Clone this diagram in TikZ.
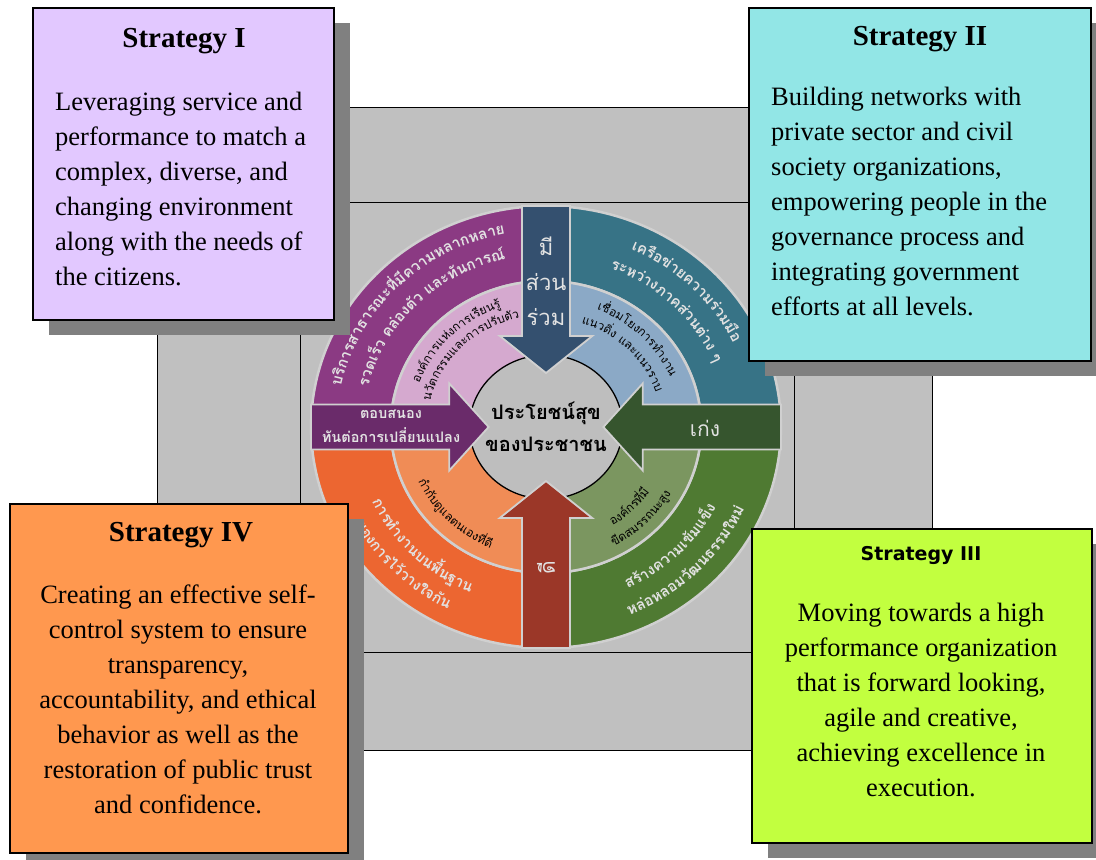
\documentclass[tikz,border=0pt]{standalone}
\usepackage{fontspec}
\setmainfont{Liberation Serif}
\newfontfamily\thaifont[Script=Thai]{Loma}
\newfontfamily\headsans{DejaVu Sans}
\usetikzlibrary{decorations.text,shadows}

% panel and frame colours
\definecolor{bggray}{HTML}{C0C0C0}
\definecolor{shadowgray}{HTML}{808080}
\definecolor{sOne}{HTML}{E2C8FF}
\definecolor{sTwo}{HTML}{92E6E6}
\definecolor{sThree}{HTML}{C2FF3F}
\definecolor{sFour}{HTML}{FF984F}
% wheel colours
\definecolor{purpleOut}{HTML}{8B3A83}
\definecolor{pinkIn}{HTML}{D5A9CF}
\definecolor{tealOut}{HTML}{377386}
\definecolor{blueIn}{HTML}{8BA9C6}
\definecolor{greenOut}{HTML}{4F7A32}
\definecolor{oliveIn}{HTML}{7B9660}
\definecolor{orangeOut}{HTML}{EC6631}
\definecolor{orangeIn}{HTML}{F08C56}
\definecolor{arrowTop}{HTML}{34506F}
\definecolor{arrowLeft}{HTML}{6A2B6A}
\definecolor{arrowRight}{HTML}{36552E}
\definecolor{arrowBottom}{HTML}{9B3728}
\definecolor{sepgray}{HTML}{D0D0D0}
\definecolor{hubgray}{HTML}{BEBEBE}
\definecolor{lighttext}{HTML}{E2E2E2}

% text set along an arc of the wheel: radius, start angle, end angle, format, text
\newcommand\ringlabel[5]{%
  \path[decorate, decoration={text along path, text align=center, text={|#4|#5}}]
    (#2:#1) arc[start angle=#2, end angle=#3, radius=#1];%
}
\newcommand\outerfmt{\thaifont\bfseries\fontsize{15}{15}\selectfont\color{lighttext}}
\newcommand\innerfmt{\thaifont\fontsize{12}{12}\selectfont\color{black}}

\begin{document}
\begin{tikzpicture}[x=1pt, y=1pt,
  cell/.style={fill=bggray, draw=black, line width=0.9pt},
  stratbox/.style={draw=black, line width=1.1pt, inner sep=0pt,
    general shadow={fill=shadowgray, shadow xshift=16pt, shadow yshift=-15pt}},
  titletext/.style={font=\fontsize{29}{35}\selectfont\bfseries, inner sep=0pt},
  bodytext/.style={font=\fontsize{26.5}{35}\selectfont, inner sep=0pt},
  sector/.style={draw=sepgray, line width=2.5pt, line join=round},
  wheelarrow/.style={draw=sepgray, line width=1.8pt, line join=miter},
  arrowlabel/.style={text=lighttext, inner sep=0pt, align=center},
]
\useasboundingbox (0,0) rectangle (1096,-860);
\fill[white] (0,0) rectangle (1096,-860);

% grey cross behind the wheel
\draw[cell] (300,-107) rectangle (794,-202);
\draw[cell] (157,-202) rectangle (300,-652);
\draw[cell] (300,-202) rectangle (794,-652);
\draw[cell] (794,-202) rectangle (932,-652);
\draw[cell] (300,-652) rectangle (794,-750);

% the wheel
\begin{scope}[shift={(546,-427)}, xscale=1.063]
  \def\ra{72}\def\rb{146}\def\rc{221}
  % outer ring quarters
  \foreach \a/\col in {0/tealOut, 90/purpleOut, 180/orangeOut, 270/greenOut}{
    \filldraw[sector, fill=\col] (\a:\rb) -- (\a:\rc)
      arc[start angle=\a, end angle=\a+90, radius=\rc] -- (\a+90:\rb)
      arc[start angle=\a+90, end angle=\a, radius=\rb] -- cycle;
  }
  % inner ring quarters
  \foreach \a/\col in {0/blueIn, 90/pinkIn, 180/orangeIn, 270/oliveIn}{
    \filldraw[sector, fill=\col] (0,0) -- (\a:\rb)
      arc[start angle=\a, end angle=\a+90, radius=\rb] -- cycle;
  }
  % hub
  \filldraw[fill=hubgray, draw=black, line width=1.3pt] (0,0) circle[radius=\ra];
  % four arrows pointing at the hub
  \foreach \a/\col in {90/arrowTop, 180/arrowLeft, 0/arrowRight, 270/arrowBottom}{
    \filldraw[wheelarrow, fill=\col, rotate=\a]
      (221,22.5) -- (91,22.5) -- (91,43.5) -- (54,0) -- (91,-43.5)
      -- (91,-22.5) -- (221,-22.5) -- cycle;
  }
  % texts on the top half (read clockwise)
  \ringlabel{197}{178}{92}{\outerfmt}{บ{ริ}การสาธารณะ{ที่}{มี}ความหลากหลาย}
  \ringlabel{172}{178}{92}{\outerfmt}{รวดเ{ร็}ว ค{ล่}อง{ตั}ว และ{ทั}นการ{ณ์}}
  \ringlabel{127}{176}{94}{\innerfmt}{อง{ค์}การแ{ห่}งการเ{รี}ยน{รู้}}
  \ringlabel{112}{176}{94}{\innerfmt}{น{วั}ตกรรมและการป{รั}บ{ตั}ว}
  \ringlabel{195}{88}{2}{\outerfmt}{เค{รื}อ{ข่}ายความ{ร่}วม{มื}อ}
  \ringlabel{170}{88}{2}{\outerfmt}{ระห{ว่}างภาค{ส่}วน{ต่}าง ๆ}
  \ringlabel{127}{86}{4}{\innerfmt}{เ{ชื่}อมโยงการ{ทำ}งาน}
  \ringlabel{109}{86}{4}{\innerfmt}{แนว{ดิ่}ง และแนวราบ}
  % texts on the bottom half (read anticlockwise)
  \ringlabel{179}{-88}{-2}{\outerfmt}{ส{ร้}างความเ{ข้}มแ{ข็}ง}
  \ringlabel{204}{-88}{-2}{\outerfmt}{ห{ล่}อหลอม{วั}ฒนธรรมให{ม่}}
  \ringlabel{117}{-86}{-4}{\innerfmt}{อง{ค์}กร{ที่}{มี}}
  \ringlabel{135}{-86}{-4}{\innerfmt}{{ขี}ดสมรรถนะ{สู}ง}
  \ringlabel{180}{182}{268}{\outerfmt}{การ{ทำ}งานบน{พื้}นฐาน}
  \ringlabel{204}{182}{268}{\outerfmt}{ของการไ{ว้}วางใจ{กั}น}
  \ringlabel{132}{184}{266}{\innerfmt}{{กำ}{กั}บ{ดู}แลตนเอง{ที่}{ดี}}
\end{scope}

% hub and arrow labels
\node[inner sep=0pt, align=center, font=\thaifont\bfseries\fontsize{20}{32}\selectfont]
  (hub) at (546,-427) {ประโยชน์สุข\\ของประชาชน};
\node[arrowlabel, font=\thaifont\fontsize{22}{35}\selectfont] (joinlbl) at (546,-281) {มี\\ส่วน\\ร่วม};
\node[arrowlabel, font=\thaifont\fontsize{21}{21}\selectfont] (abilitylbl) at (705,-428) {เก่ง};
\node[arrowlabel, font=\thaifont\fontsize{21}{21}\selectfont, rotate=90] (goodlbl) at (546,-568) {ดี};
\node[arrowlabel, font=\thaifont\bfseries\fontsize{14.5}{24}\selectfont] (resplbl) at (391,-426)
  {ตอบสนอง\\ทันต่อการเปลี่ยนแปลง};

% strategy panels
\node[stratbox, fill=sOne, minimum width=301pt, minimum height=312pt] (s1) at (183.5,-164) {};
\node[stratbox, fill=sTwo, minimum width=342pt, minimum height=353pt] (s2) at (920,-184.5) {};
\node[stratbox, fill=sThree, minimum width=340pt, minimum height=314pt] (s3) at (922,-686) {};
\node[stratbox, fill=sFour, minimum width=338pt, minimum height=349pt] (s4) at (179,-678.5) {};

\node[titletext, anchor=base] (s1title) at (184,-47) {Strategy I};
\node[bodytext, anchor=north west, align=left] (s1body) at (55,-92)
  {Leveraging service and\\performance to match a\\complex, diverse, and\\changing environment\\along with the needs of\\the citizens.};

\node[titletext, anchor=base] (s2title) at (920,-45) {Strategy II};
\node[bodytext, anchor=north west, align=left] (s2body) at (771,-87)
  {Building networks with\\private sector and civil\\society organizations,\\empowering people in the\\governance process and\\integrating government\\efforts at all levels.};

\node[inner sep=0pt, anchor=base, font=\headsans\bfseries\fontsize{19}{24}\selectfont] (s3title) at (921,-560) {Strategy III};
\node[bodytext, anchor=north, align=center] (s3body) at (921,-603)
  {Moving towards a high\\performance organization\\that is forward looking,\\agile and creative,\\achieving excellence in\\execution.};

\node[titletext, anchor=base] (s4title) at (181,-541) {Strategy IV};
\node[bodytext, anchor=north, align=center] (s4body) at (178,-585)
  {Creating an effective self-\\control system to ensure\\transparency,\\accountability, and ethical\\behavior as well as the\\restoration of public trust\\and confidence.};
\end{tikzpicture}
\end{document}
